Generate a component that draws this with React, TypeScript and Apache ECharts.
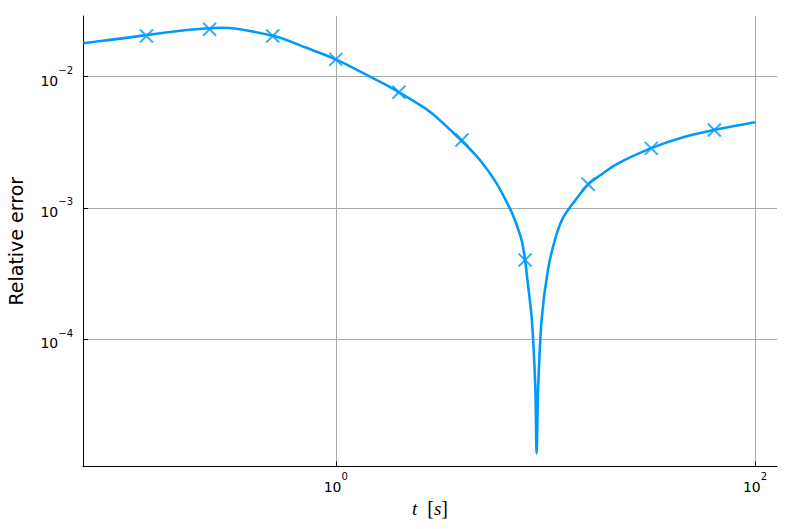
import React, { useEffect, useRef } from "react";
import * as echarts from "echarts";

// Continuous curve: time t [s] and relative error
const lineT = [
  0.0625, 0.0761, 0.289, 0.521, 0.719, 1.0, 1.622, 2.0, 2.81, 3.95, 4.87, 5.85,
  6.77, 7.15, 7.7, 8.0, 8.21, 8.62, 8.95, 9.08, 9.24, 9.59, 10.28, 11.1, 11.99,
  13.09, 16.0, 18.2, 21.9, 31.8, 45.0, 63.7, 100,
];
const lineErr = [
  0.01798, 0.01872, 0.02363, 0.02018, 0.01669, 0.01357, 0.00916, 0.00761,
  0.00541, 0.00329, 0.002317, 0.001539, 0.000992, 0.000808, 0.000569, 0.0004,
  0.000282, 0.0001396, 4.33e-5, 1.345e-5, 4.33e-5, 0.0001396, 0.000336,
  0.000569, 0.000808, 0.001006, 0.001512, 0.001764, 0.002159, 0.002844,
  0.003438, 0.003924, 0.004491,
];

// Cross markers
const markT = [0.125, 0.25, 0.5, 1, 2, 4, 8, 16, 32, 64];
const markErr = [
  0.02043, 0.02298, 0.02043, 0.01357, 0.00761, 0.00329, 0.0004, 0.001512,
  0.002844, 0.003924,
];

// Tick exponents (decades)
const xTickExp = [0, 2];
const yTickExp = [-4, -3, -2];

const COLOR = "#009AFA";
const FONT = "DejaVu Sans";

export default function App() {
  const ref = useRef<HTMLDivElement>(null);

  useEffect(() => {
    if (!ref.current) return;
    const chart = echarts.init(ref.current, undefined, { renderer: "svg" });

    const lineData = lineT.map((t, i) => [Math.log10(t), Math.log10(lineErr[i])]);
    const markData = markT.map((t, i) => [Math.log10(t), Math.log10(markErr[i])]);

    const supLabel = (v: number) => {
      const e = Math.round(v);
      const s = e < 0 ? "\u2212" + String(-e) : String(e);
      return `{b|10}{s|${s}}`;
    };
    const rich = {
      b: {
        fontSize: 14,
        fontFamily: FONT,
        color: "#000",
        lineHeight: 22,
        verticalAlign: "bottom",
      },
      s: {
        fontSize: 10,
        fontFamily: FONT,
        color: "#000",
        lineHeight: 10,
        verticalAlign: "top",
      },
    };

    chart.setOption({
      animation: false,
      backgroundColor: "#fff",
      grid: {
        left: 83,
        right: 16,
        top: 16,
        bottom: 62.5,
        containLabel: false,
        outerBoundsMode: "none",
      },
      xAxis: {
        type: "value",
        min: -1.206,
        max: 2.105,
        name: "{i|t}{r|  [}{i|s}{r|]}",
        nameLocation: "middle",
        nameGap: 20,
        nameTextStyle: {
          rich: {
            i: { fontSize: 19, fontFamily: "Liberation Serif", fontStyle: "italic", color: "#000" },
            r: { fontSize: 20, fontFamily: "Liberation Serif", color: "#000" },
          },
        },
        axisLine: { show: true, onZero: false, lineStyle: { color: "#000", width: 1 } },
        axisTick: {
          show: true,
          inside: true,
          length: 5,
          customValues: xTickExp,
          lineStyle: { color: "#000", width: 1 },
        },
        axisLabel: {
          show: true,
          customValues: xTickExp,
          margin: 5,
          formatter: supLabel,
          rich,
        },
        splitLine: { show: true, lineStyle: { color: "#aaaaaa", width: 1 } },
      },
      yAxis: {
        type: "value",
        min: -4.972,
        max: -1.537,
        name: "Relative error",
        nameLocation: "middle",
        nameGap: 58,
        nameRotate: 90,
        nameTextStyle: { fontSize: 19, fontFamily: FONT, color: "#000" },
        axisLine: { show: true, onZero: false, lineStyle: { color: "#000", width: 1 } },
        axisTick: {
          show: true,
          inside: true,
          length: 5,
          customValues: yTickExp,
          lineStyle: { color: "#000", width: 1 },
        },
        axisLabel: {
          show: true,
          customValues: yTickExp,
          margin: 10,
          formatter: supLabel,
          rich,
        },
        splitLine: { show: true, lineStyle: { color: "#aaaaaa", width: 1 } },
      },
      series: [
        {
          type: "line",
          data: lineData,
          showSymbol: false,
          symbol: "none",
          smooth: 0.3,
          lineStyle: { color: COLOR, width: 2.6 },
          z: 2,
        },
        {
          type: "scatter",
          data: markData,
          symbol: "path://M0,0L10,10M10,0L0,10",
          symbolSize: 13,
          itemStyle: { color: "rgba(0,0,0,0)", borderColor: COLOR, borderWidth: 2 },
          z: 3,
        },
      ],
    });

    return () => chart.dispose();
  }, []);

  return (
    <div
      ref={ref}
      style={{ position: "fixed", left: 0, top: 0, width: 793, height: 529 }}
    />
  );
}
